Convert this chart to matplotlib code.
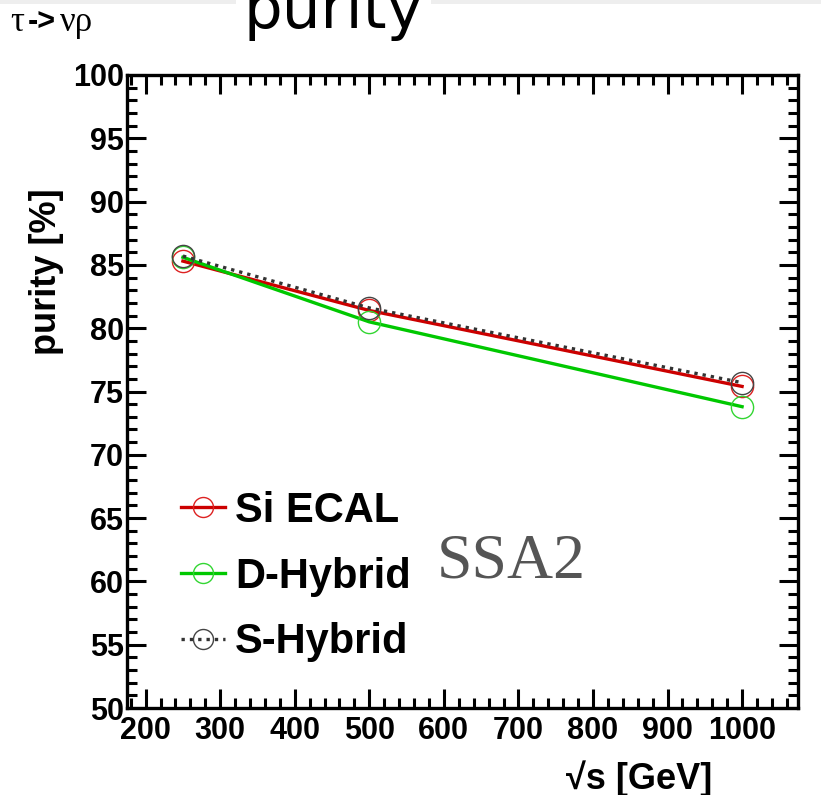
import numpy as np
import matplotlib
matplotlib.use('Agg')
import matplotlib.pyplot as plt
from matplotlib.ticker import MultipleLocator
from matplotlib.patches import Rectangle

# data
energy = [250, 500, 1000]
si_ecal = [85.3, 81.4, 75.4]
d_hybrid = [85.6, 80.5, 73.8]
s_hybrid = [85.7, 81.6, 75.7]
labels = ['Si ECAL', 'D-Hybrid', 'S-Hybrid']

plt.rcParams['font.family'] = ['Liberation Sans', 'DejaVu Sans']

W, H = 821, 795
fig = plt.figure(figsize=(W / 100, H / 100), dpi=100)
fig.patch.set_facecolor('white')

# axes frame in pixel units
left, right, top, bottom = 127, 798, 75, 708
ax = fig.add_axes([left / W, 1 - bottom / H, (right - left) / W, (bottom - top) / H])

ax.plot(energy, si_ecal, color='#cc0000', lw=2.4, marker='o', ms=16,
        mfc='none', mec='#dd2222', mew=1.0, label=labels[0], zorder=3)
ax.plot(energy, d_hybrid, color='#00c800', lw=2.4, marker='o', ms=16,
        mfc='none', mec='#33d633', mew=1.0, label=labels[1], zorder=3)
ax.plot(energy, s_hybrid, color='#333333', lw=2.4, ls=(0, (1, 1.5)), marker='o', ms=16,
        mfc='none', mec='#444444', mew=1.0, label=labels[2], zorder=4)

ax.set_xlim(175, 1075)
ax.set_ylim(50, 100)

ax.xaxis.set_major_locator(MultipleLocator(100))
ax.xaxis.set_minor_locator(MultipleLocator(20))
ax.yaxis.set_major_locator(MultipleLocator(5))
ax.yaxis.set_minor_locator(MultipleLocator(1))

ax.tick_params(which='both', direction='in', top=True, right=True, width=2.2)
ax.tick_params(which='major', length=14)
ax.tick_params(which='minor', length=7)
ax.tick_params(axis='x', which='major', pad=6)
ax.tick_params(axis='y', which='major', pad=2)
for lab in ax.get_xticklabels() + ax.get_yticklabels():
    lab.set_fontsize(22)
    lab.set_fontweight('bold')
for sp in ax.spines.values():
    sp.set_linewidth(2.4)

ax.set_ylabel('purity [%]', fontsize=26, fontweight='bold')
ax.yaxis.set_label_coords(-0.094, 0.689)
ax.set_xlabel('√s [GeV]', fontsize=26, fontweight='bold', ha='right')
ax.xaxis.set_label_coords(0.872, -0.082)

leg = ax.legend(loc='upper left', bbox_to_anchor=(160 / W, 1 - 470 / H),
                bbox_transform=fig.transFigure, frameon=False,
                prop={'size': 30, 'weight': 'bold'}, handlelength=1.05,
                handletextpad=0.25, labelspacing=0.62, borderpad=0, markerscale=0.9)

ax.text(437 / W, 1 - 578 / H, 'SSA2', transform=fig.transFigure, fontsize=46,
        family='Liberation Serif', color='#555555', ha='left', va='baseline')

# header pieces of the canvas
fig.patches.append(Rectangle((0, 1 - 4 / H), 1, 4 / H, transform=fig.transFigure,
                             facecolor='#eeeeee', edgecolor='none', zorder=0))
fig.patches.append(Rectangle((236 / W, 1 - 40 / H), 195 / W, 40 / H,
                             transform=fig.transFigure, facecolor='white',
                             edgecolor='none', zorder=1))
serif = ['Liberation Serif', 'DejaVu Serif']
fig.text(10 / W, 1 - 31 / H, 'τ', fontsize=25, family=serif, ha='left', va='baseline')
fig.text(28 / W, 1 - 31 / H, '->', fontsize=22, fontweight='bold', ha='left', va='baseline')
fig.text(60 / W, 1 - 31 / H, 'νρ', fontsize=25, family=serif, ha='left', va='baseline')
fig.text(333 / W, 1 - 28 / H, 'purity', fontsize=44, family=['DejaVu Sans'],
         ha='center', va='baseline', zorder=2)

fig.savefig('out.png', dpi=100)
